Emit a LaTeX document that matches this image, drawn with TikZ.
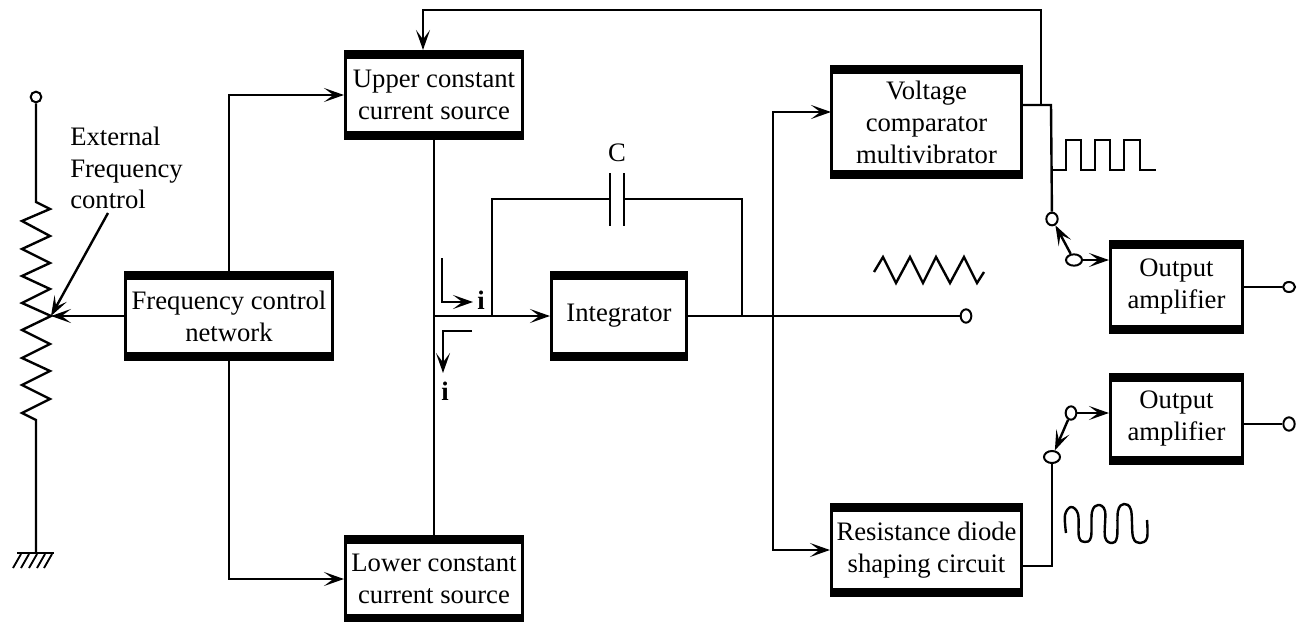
\documentclass[tikz,border=0pt]{standalone}
\usepackage{fontspec}
\setmainfont{Liberation Serif}
\usetikzlibrary{arrows.meta,shapes.geometric}
\def\px{0.75pt}
\tikzset{
  wire/.style={line width=1.8pt,line join=miter},
  arr/.style={wire,-{Stealth[length=15pt,width=10.5pt,inset=7pt]}},
  blockbox/.style={draw,line width=2.3pt,fill=white,inner sep=0pt,align=center,
    font=\fontsize{20}{24}\selectfont,
    path picture={
      \fill[black] (path picture bounding box.north west) rectangle ([yshift=-5.5pt]path picture bounding box.north east);
      \fill[black] (path picture bounding box.south west) rectangle ([yshift=5.5pt]path picture bounding box.south east);
    }},
  txt/.style={inner sep=0pt,font=\fontsize{20}{23.5}\selectfont},
  oval/.style={draw,ellipse,line width=1.5pt,fill=white,inner sep=0pt,minimum width=10pt,minimum height=8pt},
}
\begin{document}
\begin{tikzpicture}[x=0.75pt,y=-0.75pt]
\useasboundingbox (0,0) rectangle (1299,621);
% blocks
\node[blockbox,minimum width=177*\px,minimum height=87*\px] (up) at (434,95) {Upper constant\\current source};
\node[blockbox,minimum width=177*\px,minimum height=84*\px] (lo) at (434,579) {Lower constant\\current source};
\node[blockbox,minimum width=207*\px,minimum height=87*\px] (fc) at (229,316) {Frequency control\\network};
\node[blockbox,minimum width=135*\px,minimum height=87*\px] (int) at (619,316) {Integrator};
\node[blockbox,minimum width=190*\px,minimum height=110*\px] (vc) at (926.5,122) {Voltage\\comparator\\multivibrator};
\node[blockbox,minimum width=190*\px,minimum height=90*\px] (rd) at (926.5,550) {Resistance diode\\shaping circuit};
\node[blockbox,minimum width=132*\px,minimum height=90*\px] (oa) at (1176.5,287) {Output\\amplifier};
\node[blockbox,minimum width=132*\px,minimum height=88*\px] (ob) at (1176.5,419) {Output\\amplifier};
% terminals
\node[oval,minimum width=8pt,minimum height=8pt] (tt) at (36,97) {};
\node[oval,minimum width=8.5pt,minimum height=9.5pt] (s1) at (1052,219) {};
\node[oval,minimum width=12pt,minimum height=8.5pt] (s2) at (1074,260) {};
\node[oval,minimum width=8pt,minimum height=10pt] (s3) at (1071,413) {};
\node[oval,minimum width=12pt,minimum height=9pt] (s4) at (1052,457) {};
\node[oval,minimum width=9pt,minimum height=7.5pt] (ta) at (1289,287) {};
\node[oval,minimum width=8.5pt,minimum height=10pt] (tb) at (1289,424) {};
\node[oval,minimum width=8pt,minimum height=10pt] (tc) at (966,316) {};
% coordinates
\coordinate (rtop) at (36,202);
\coordinate (rbot) at (36,420);
\coordinate (wip) at (51,316);
\coordinate (gnd) at (36,553);
\coordinate (j) at (434,316);
\coordinate (n1) at (492,316);
\coordinate (n2) at (742,316);
\coordinate (n3) at (773,316);
\coordinate (capl) at (610,199);
\coordinate (capr) at (624,199);
\coordinate (fbk) at (1041,105);
\coordinate (outv) at (1051,105);
\coordinate (fbtop) at (423,10);
\coordinate (rs) at (1022,566);
\coordinate (vin) at (831,112);
% texts
\node[txt,align=left,anchor=north west] (ext) at (70,127) {External\\Frequency\\control};
\node[txt] (cl) at (617,153) {C};
\node[txt] (ia) at (481,300) {\bfseries i};
\node[txt] (ib) at (445,391) {\bfseries i};
% resistor
\draw[wire] (tt) -- (rtop) -- (50,209) -- (22,221)
  -- (50,236) -- (22,249) -- (50,263) -- (22,276) -- (50,289) -- (22,303)
  -- (51,316) -- (22,330) -- (50,344) -- (22,358) -- (50,371) -- (22,385)
  -- (50,399) -- (22,413) -- (rbot) -- (gnd);
% ground
\draw[wire] (17,553) -- (54,553);
\foreach \x in {21,29,37,45,52} \draw[line width=1.4pt] (\x,554) -- (\x-8,568);
% control
\draw[arr] (fc.west) -- (wip);
\draw[arr] (108,213) -- (wip);
\draw[arr] (fc.north) |- (up.west);
\draw[arr] (fc.south) |- (lo.west);
% current path
\draw[wire] (up.south) -- (lo.north);
\draw[arr] (j) -- (int.west);
\draw[wire] (n1) |- (capl);
\draw[wire] (n2) |- (capr);
\draw[wire] (610,173) -- (610,226);
\draw[wire] (624,173) -- (624,226);
\draw[arr] (442,258) |- (473,302);
\draw[arr] (472,331) -| (443,373);
% integrator output
\draw[wire] (int.east) -- (tc);
\draw[arr] (n3) |- (vin);
\draw[arr] (n3) |- (rd.west);
% feedback
\draw[arr] (fbk) |- (fbtop) -- (up.north -| fbtop);
\draw[wire] (vc.east |- fbk) -- (outv) -- (s1);
% output switches
\draw[arr] (s2) -- (s1);
\draw[arr] (s2) -- (s2 -| oa.west);
\draw[wire] (oa.east |- ta) -- (ta);
\draw[wire] (rs) -| (s4);
\draw[arr] (s3) -- (s4);
\draw[arr] (s3) -- (s3 -| ob.west);
\draw[wire] (ob.east |- tb) -- (tb);
% waveforms
\draw[wire] (1052,170) -- (1066,170) -- (1066,140) -- (1081,140) -- (1081,170) -- (1095,170) -- (1095,140) -- (1110,140) -- (1110,170) -- (1124,170) -- (1124,140) -- (1140,140) -- (1140,170) -- (1156,170);
\draw[wire] (874,272) -- (883,257) -- (896,283) -- (910,257) -- (923,283) -- (936,257) -- (950,283) -- (964,257) -- (977,283) -- (984,272);
\draw[wire] plot[smooth,tension=0.6] coordinates {(1066,533) (1065,515) (1071,507) (1078,514) (1079,537) (1085,542) (1091,537) (1092,512) (1098,505) (1105,511) (1105,537) (1112,543) (1117,537) (1118,511) (1124,504) (1131,510) (1133,537) (1140,543) (1147,538) (1147,520)};
\end{tikzpicture}
\end{document}
